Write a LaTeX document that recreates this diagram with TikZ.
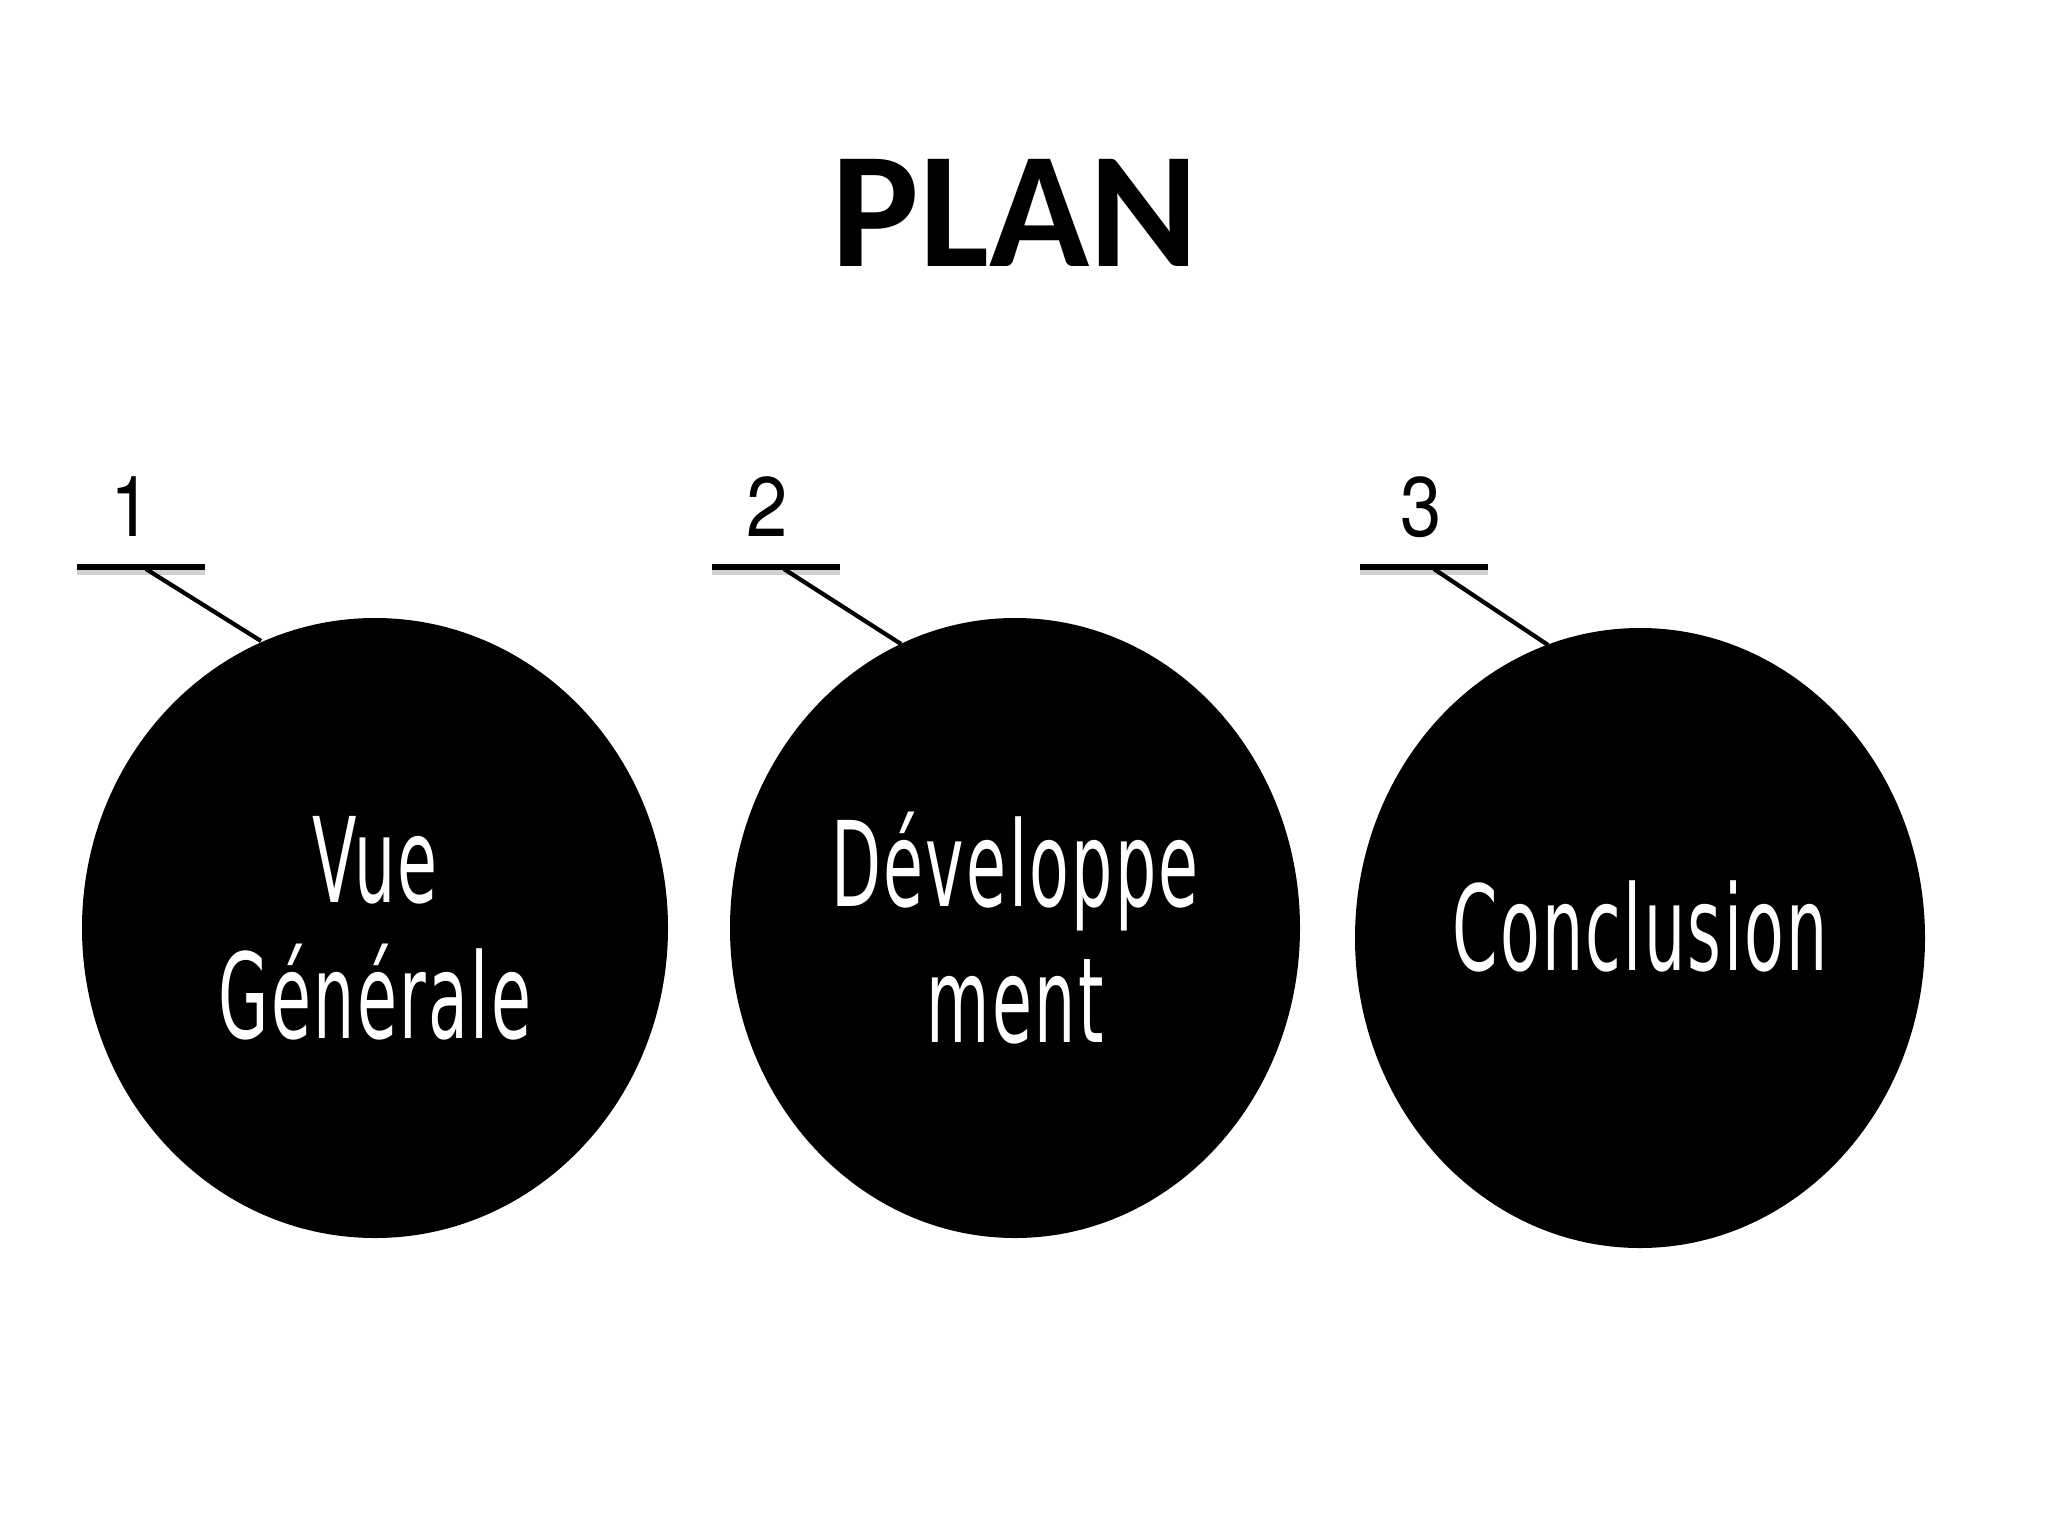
\documentclass[tikz,border=0pt]{standalone}
\usepackage{fontspec}
\usetikzlibrary{shapes.geometric}
\newfontfamily\titlefont{Carlito}
\newfontfamily\numfont[FakeStretch=0.88]{TeX Gyre Heros}
\newfontfamily\agency[FakeStretch=0.55,LetterSpace=2]{DejaVu Sans}
\begin{document}
\begin{tikzpicture}[x=0.01cm,y=-0.01cm,
  blob/.style={ellipse, fill=black, draw=none, inner sep=0pt},
  blobtext/.style={text=white, align=center, inner sep=0pt,
    font=\agency\fontsize{33.6}{38.7}\selectfont},
  tick/.style={line width=1.6pt, draw=black,
    preaction={draw=black!18, line width=2.4pt, transform canvas={yshift=-1.2pt}}},
  leader/.style={line width=1.2pt, draw=black},
  num/.style={font=\numfont\fontsize{24}{30}\selectfont, inner sep=0pt},
]
\useasboundingbox (0,0) rectangle (2048,1536);
\node[font=\titlefont\bfseries\fontsize{47}{56}\selectfont, inner sep=0pt] (title) at (1015,213) {PLAN};

\node[blob, minimum width=586*0.01cm, minimum height=620*0.01cm] (c1) at (375,928) {};
\node[blob, minimum width=570*0.01cm, minimum height=620*0.01cm] (c2) at (1015,928) {};
\node[blob, minimum width=570*0.01cm, minimum height=620*0.01cm] (c3) at (1640,938) {};
\node[blobtext] (t1) at (c1.center) {Vue\\Générale};
\node[blobtext] (t2) at (c2.center) {Développe\\ment};
\node[blobtext] (t3) at (1640,926) {Conclusion};

\node[num] (n1) at (131,507) {1};
\node[num] (n2) at (767,507) {2};
\node[num] (n3) at (1421,507) {3};

\coordinate (a1) at (77,567);  \coordinate (b1) at (205,567);
\coordinate (a2) at (712,567); \coordinate (b2) at (840,567);
\coordinate (a3) at (1360,567);\coordinate (b3) at (1488,567);
\coordinate (d1) at (146,569); \coordinate (e1) at (261,641);
\coordinate (d2) at (784,569); \coordinate (e2) at (901,644);
\coordinate (d3) at (1434,569);\coordinate (e3) at (1548,645);

\draw[tick] (a1) -- (b1);
\draw[tick] (a2) -- (b2);
\draw[tick] (a3) -- (b3);
\draw[leader] (d1) -- (e1);
\draw[leader] (d2) -- (e2);
\draw[leader] (d3) -- (e3);
\end{tikzpicture}
\end{document}
